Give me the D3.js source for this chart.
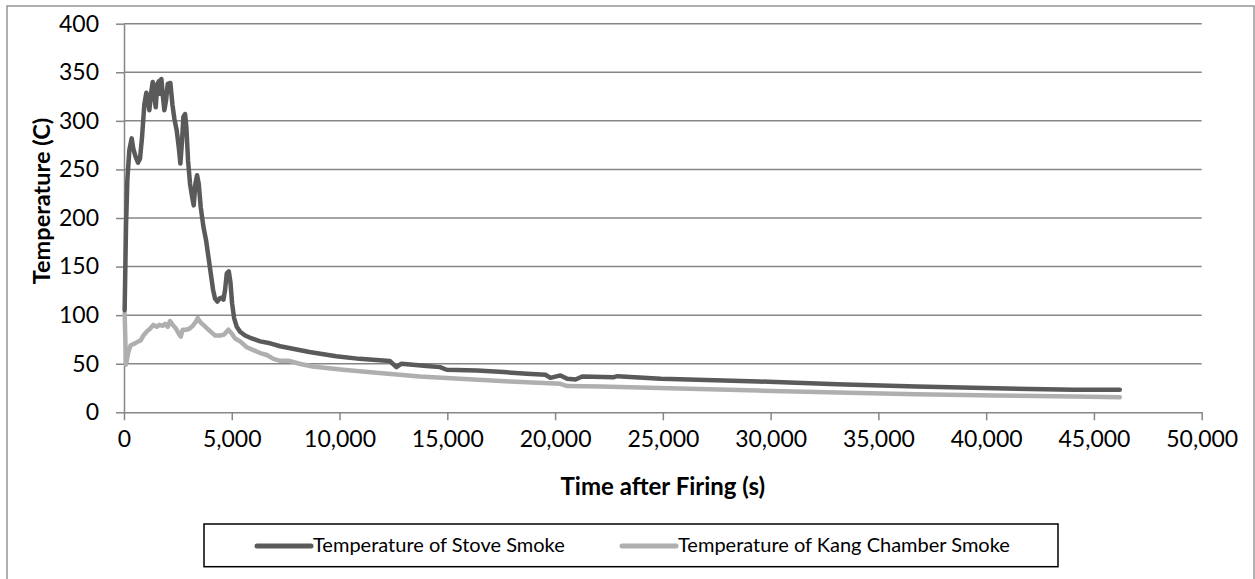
<!DOCTYPE html>
<html>
<head>
<meta charset="utf-8">
<script src="https://cdn.jsdelivr.net/npm/d3@7"></script>
<style>
  html, body { margin: 0; padding: 0; background: #fff; }
  svg { display: block; font-family: Lato, "Open Sans", sans-serif; }
</style>
</head>
<body>
<svg id="chart" width="1255" height="579"></svg>
<script>
// Flue-gas temperatures after firing: stove smoke and kang chamber smoke
const stoveTime = [30, 93, 155, 248, 356, 433, 542, 650, 743, 836, 944, 1037, 1099, 1176, 1254, 1331, 1409, 1471, 1548, 1625, 1687, 1734, 1811, 1873, 1950, 2028, 2152, 2245, 2338, 2446, 2539, 2616, 2694, 2755, 2833, 2895, 2972, 3065, 3158, 3235, 3313, 3390, 3468, 3560, 3684, 3808, 3916, 4025, 4133, 4226, 4334, 4427, 4520, 4613, 4690, 4768, 4861, 4938, 5016, 5108, 5232, 5387, 5619, 5929, 6316, 6780, 7245, 8602, 9845, 10932, 12330, 12640, 12873, 14038, 14659, 14970, 16367, 17610, 18697, 19551, 19784, 20250, 20560, 20949, 21259, 22734, 22890, 24909, 25769, 29432, 33095, 36758, 40421, 44084, 46200];
const stoveTemp = [105, 191, 239, 270, 282, 271, 263, 257, 261, 283, 317, 329, 321, 311, 328, 340, 324, 314, 338, 341, 328, 343, 324, 311, 321, 338, 339, 317, 302, 290, 273, 256, 280, 304, 307, 293, 259, 235, 222, 213, 235, 244, 235, 211, 191, 177, 160, 143, 126, 117, 114, 117, 118, 116, 126, 143, 145, 134, 112, 97, 88, 83, 79, 76, 73, 71, 68, 62, 57.6, 55, 52.8, 46.5, 50, 47.6, 46.5, 43.8, 43, 41.4, 39.7, 38.6, 35.5, 38, 34.5, 33.8, 36.9, 36.2, 37.2, 34.5, 34.1, 31.7, 29, 26.6, 24.8, 23.1, 23.1];

const kangTime = [30, 93, 201, 310, 511, 666, 774, 898, 1053, 1207, 1362, 1517, 1641, 1796, 1904, 2028, 2136, 2260, 2415, 2539, 2632, 2724, 2879, 3034, 3189, 3328, 3421, 3529, 3684, 3870, 4071, 4226, 4458, 4644, 4845, 5000, 5155, 5387, 5696, 6006, 6316, 6626, 6935, 7245, 7670, 8136, 8757, 10155, 11708, 13727, 15591, 17920, 20250, 20560, 22106, 25769, 29432, 33095, 36758, 40421, 44084, 46200];
const kangTemp = [102, 49, 62, 69, 71, 73, 74, 79, 83, 86, 90, 88, 90, 89, 91, 88, 94, 90, 86, 81, 78, 85, 85, 86, 89, 93, 97, 93, 90, 86, 82, 79, 79, 80, 85, 81, 76, 73, 67, 64, 61, 59, 55, 53, 53, 50, 47.2, 43.8, 40.7, 36.9, 34.5, 31.7, 29.3, 27, 26.5, 24.6, 22.4, 20.3, 18.6, 17.2, 16.2, 15.5];

const xTicks = [0, 5000, 10000, 15000, 20000, 25000, 30000, 35000, 40000, 45000, 50000];
const yTicks = [0, 50, 100, 150, 200, 250, 300, 350, 400];

const seriesNames = ["Temperature of Stove Smoke", "Temperature of Kang Chamber Smoke"];
const seriesColors = ["#5a5a5a", "#afafaf"];

const svg = d3.select("#chart");
const gridColor = "#868686";

// chart-area frame
svg.append("rect")
  .attr("x", 7).attr("y", 6).attr("width", 1247).attr("height", 600)
  .attr("fill", "none").attr("stroke", gridColor).attr("stroke-width", 1.3);

const plot = { left: 124, right: 1201.7, top: 23.7, bottom: 412.3 };
const x = d3.scaleLinear().domain([0, 50000]).range([plot.left, plot.right]);
const y = d3.scaleLinear().domain([0, 400]).range([plot.bottom, plot.top]);

// horizontal gridlines
svg.append("g").selectAll("line")
  .data(yTicks.filter(d => d > 0))
  .join("line")
  .attr("x1", plot.left).attr("x2", plot.right)
  .attr("y1", d => y(d)).attr("y2", d => y(d))
  .attr("stroke", gridColor).attr("stroke-width", 1.5);

// y axis
const yAxis = svg.append("g")
  .attr("transform", `translate(${plot.left},0)`)
  .call(d3.axisLeft(y).tickValues(yTicks).tickSize(8).tickPadding(17).tickSizeOuter(0)
    .tickFormat(d3.format("d")));
// x axis
const xAxis = svg.append("g")
  .attr("transform", `translate(0,${plot.bottom})`)
  .call(d3.axisBottom(x).tickValues(xTicks).tickSize(8).tickPadding(10).tickSizeOuter(0)
    .tickFormat(d3.format(",")));

[yAxis, xAxis].forEach(g => {
  g.select(".domain").attr("stroke", gridColor).attr("stroke-width", 1.5);
  g.selectAll(".tick line").attr("stroke", gridColor).attr("stroke-width", 1.5);
  g.selectAll(".tick text").attr("fill", "#000").style("font-size", "23px")
    .style("font-family", "Lato, 'Open Sans', sans-serif");
});

// series lines
const line = d3.line().x(d => x(d[0])).y(d => y(d[1]));
const stoveData = d3.zip(stoveTime, stoveTemp);
const kangData = d3.zip(kangTime, kangTemp);

svg.append("path").datum(kangData)
  .attr("d", line).attr("fill", "none")
  .attr("stroke", seriesColors[1]).attr("stroke-width", 4.5)
  .attr("stroke-linejoin", "round").attr("stroke-linecap", "round");
svg.append("path").datum(stoveData)
  .attr("d", line).attr("fill", "none")
  .attr("stroke", seriesColors[0]).attr("stroke-width", 4.5)
  .attr("stroke-linejoin", "round").attr("stroke-linecap", "round");

// axis titles
svg.append("text")
  .attr("x", (plot.left + plot.right) / 2).attr("y", 495)
  .attr("text-anchor", "middle")
  .style("font-size", "24px").style("font-weight", "bold")
  .text("Time after Firing (s)");
svg.append("text")
  .attr("transform", "translate(50,201) rotate(-90)")
  .attr("text-anchor", "middle")
  .style("font-size", "23.5px").style("font-weight", "bold")
  .text("Temperature (C)");

// legend
const legend = svg.append("g");
legend.append("rect")
  .attr("x", 204).attr("y", 524).attr("width", 854).attr("height", 42.7)
  .attr("fill", "#fff").attr("stroke", "#000").attr("stroke-width", 1.5);
const legendItems = [
  { name: seriesNames[0], color: seriesColors[0], x0: 257 },
  { name: seriesNames[1], color: seriesColors[1], x0: 622 }
];
legendItems.forEach(it => {
  legend.append("line")
    .attr("x1", it.x0).attr("x2", it.x0 + 54).attr("y1", 546).attr("y2", 546)
    .attr("stroke", it.color).attr("stroke-width", 5).attr("stroke-linecap", "round");
  legend.append("text")
    .attr("x", it.x0 + 56).attr("y", 552)
    .style("font-size", "20px")
    .text(it.name);
});
</script>
</body>
</html>
